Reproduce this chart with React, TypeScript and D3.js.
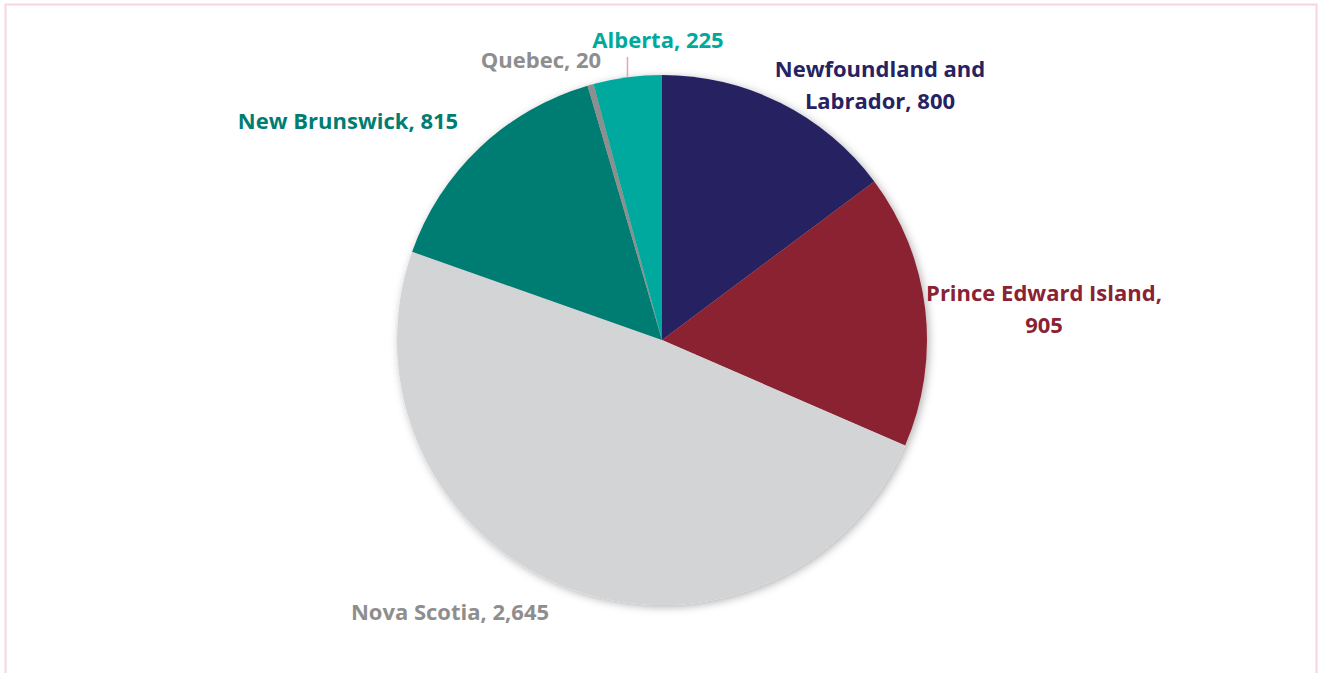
import React, { useEffect, useMemo } from "react";
import * as d3 from "d3";

const provinces = [
  "Newfoundland and Labrador",
  "Prince Edward Island",
  "Nova Scotia",
  "New Brunswick",
  "Quebec",
  "Alberta",
];
const values = [800, 905, 2645, 815, 20, 225];
const sliceColors = ["#272262", "#8b2232", "#d3d4d6", "#007d72", "#8e8e8e", "#00a99d"];
const labelColors = ["#272262", "#8b2232", "#8e8e8e", "#007d72", "#8e8e8e", "#00a99d"];
// label text lines per slice
const labelLines = [
  ["Newfoundland and", "Labrador, 800"],
  ["Prince Edward Island,", "905"],
  ["Nova Scotia, 2,645"],
  ["New Brunswick, 815"],
  ["Quebec, 20"],
  ["Alberta, 225"],
];

const width = 1320;
const height = 673;
const cx = 662;
const cy = 340;
const radius = 265;

// label centre positions (first line), picked to match the layout
const labelPos: [number, number][] = [
  [880, 77],
  [1044, 301],
  [450, 620],
  [348, 129],
  [541, 68],
  [658, 48],
];

const App = () => {
  useEffect(() => {
    document.body.style.margin = "0";
  }, []);

  const arcs = useMemo(
    () =>
      d3
        .pie<number>()
        .sort(null)
        .value((d) => d)(values),
    []
  );
  const arc = d3.arc<d3.PieArcDatum<number>>().innerRadius(0).outerRadius(radius);
  const outer = d3.arc<d3.PieArcDatum<number>>().innerRadius(radius).outerRadius(radius);

  // Alberta leader line
  const alberta = arcs[5];
  const edge = outer.centroid(alberta);

  return (
    <svg width={width} height={height} style={{ display: "block" }}>
      <defs>
        <filter id="shadow" x="-10%" y="-10%" width="120%" height="120%">
          <feDropShadow dx="2" dy="2" stdDeviation="4" floodColor="#000" floodOpacity="0.3" />
        </filter>
      </defs>
      <rect x={5.5} y={4.5} width={1311} height={700} fill="#fff" stroke="#f7d6dc" strokeWidth={2} />
      <g transform={`translate(${cx},${cy})`}>
        <g filter="url(#shadow)">
          {arcs.map((a, i) => (
            <path key={provinces[i]} d={arc(a) || ""} fill={sliceColors[i]} />
          ))}
        </g>
        <line
          x1={edge[0]}
          y1={edge[1]}
          x2={edge[0]}
          y2={labelPos[5][1] - cy + 9}
          stroke="#e8a4b2"
          strokeWidth={1.5}
        />
      </g>
      {labelLines.map((lines, i) => (
        <text
          key={provinces[i]}
          x={labelPos[i][0]}
          y={labelPos[i][1]}
          textAnchor="middle"
          fontFamily="'Open Sans', sans-serif"
          fontWeight="bold"
          fontSize={22}
          fill={labelColors[i]}
        >
          {lines.map((l, j) => (
            <tspan key={j} x={labelPos[i][0]} dy={j === 0 ? 0 : 32}>
              {l}
            </tspan>
          ))}
        </text>
      ))}
    </svg>
  );
};

export default App;
